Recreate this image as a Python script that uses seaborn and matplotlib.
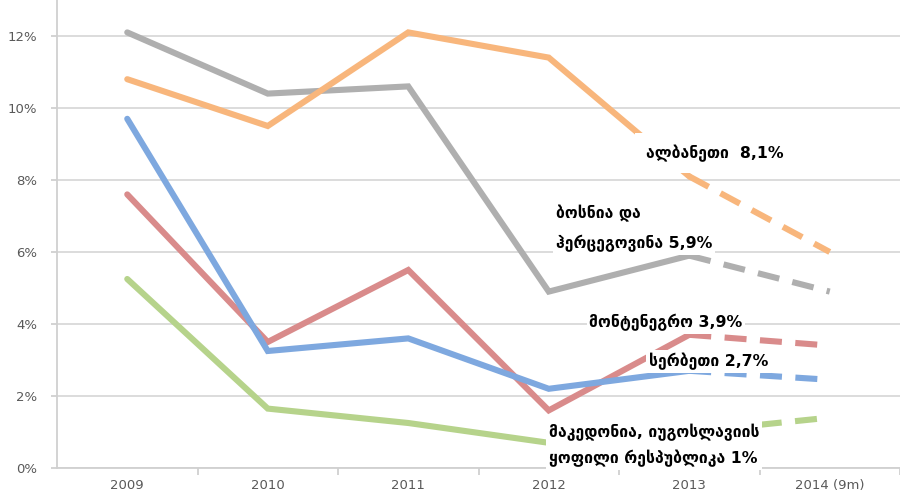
import matplotlib
matplotlib.use("Agg")
import matplotlib.pyplot as plt
import seaborn as sns
import pandas as pd
import numpy as np
from matplotlib.ticker import FixedLocator

# ---- data ----
years = ["2009", "2010", "2011", "2012", "2013", "2014 (9m)"]
albania = [10.8, 9.5, 12.1, 11.4, 8.1, 6.0]
bosnia = [12.1, 10.4, 10.6, 4.9, 5.9, 4.9]
montenegro = [7.6, 3.5, 5.5, 1.6, 3.7, 3.4]
serbia = [9.7, 3.25, 3.6, 2.2, 2.7, 2.45]
macedonia = [5.25, 1.65, 1.25, 0.7, 1.0, 1.4]

labels = {
    "albania": "ალბანეთი  8,1%",
    "bosnia": "ბოსნია და\nჰერცეგოვინა 5,9%",
    "montenegro": "მონტენეგრო 3,9%",
    "serbia": "სერბეთი 2,7%",
    "macedonia": "მაკედონია, იუგოსლავიის\nყოფილი რესპუბლიკა 1%",
}

series = {
    "bosnia": bosnia,
    "albania": albania,
    "montenegro": montenegro,
    "serbia": serbia,
    "macedonia": macedonia,
}
colors = {
    "bosnia": "#AFAFAF",
    "albania": "#F8B67C",
    "montenegro": "#D98B8B",
    "serbia": "#7EA8DF",
    "macedonia": "#B6D38B",
}

sns.set_theme(style="white")
plt.rcParams["font.family"] = ["DejaVu Sans"]

fig = plt.figure(figsize=(9, 4.99), dpi=100)
ax = fig.add_axes([57 / 900, 31 / 499, 1 - 57 / 900, 1 - 31 / 499 - 0.0])

idx = np.arange(len(years))
for name, vals in series.items():
    df_solid = pd.DataFrame({"x": idx[:5], "y": vals[:5]})
    df_dash = pd.DataFrame({"x": idx[4:], "y": vals[4:]})
    sns.lineplot(data=df_solid, x="x", y="y", ax=ax, color=colors[name],
                 lw=4.4, solid_capstyle="round", solid_joinstyle="miter", zorder=3)
    l = sns.lineplot(data=df_dash, x="x", y="y", ax=ax, color=colors[name],
                     lw=4.4, zorder=3)
    l.lines[-1].set_dashes((3.6, 2.2))

ax.set_xlim(-0.5, 5.5)
ax.set_ylim(0, 13)
ax.set_xlabel("")
ax.set_ylabel("")

ax.set_yticks([0, 2, 4, 6, 8, 10, 12])
ax.set_yticklabels(["0%", "2%", "4%", "6%", "8%", "10%", "12%"])
ax.set_xticks(idx)
ax.set_xticklabels(years)
ax.xaxis.set_minor_locator(FixedLocator(np.arange(0.5, 5.6, 1.0)))

ax.grid(axis="y", color="#D9D9D9", lw=1.3, zorder=0)
ax.grid(axis="x", visible=False)
for s in ["top", "right"]:
    ax.spines[s].set_visible(False)
ax.spines["left"].set_color("#D0D0D0")
ax.spines["left"].set_linewidth(1.3)
ax.spines["bottom"].set_color("#D0D0D0")
ax.spines["bottom"].set_linewidth(1.3)

ax.tick_params(axis="y", which="major", length=4, color="#D0D0D0", width=1.3,
               labelsize=9.5, labelcolor="#595959", pad=10, left=True)
ax.tick_params(axis="x", which="major", length=0, labelsize=9.5,
               labelcolor="#595959", pad=8)
ax.tick_params(axis="x", which="minor", length=5, color="#D0D0D0", width=1.3,
               bottom=True)

box = dict(facecolor="white", edgecolor="none", pad=2)
tk = dict(fontsize=11.3, fontweight="bold", color="black", zorder=5)

ax.text(4.18, 8.75, labels["albania"], ha="center", va="center",
        bbox=dict(facecolor="white", edgecolor="none", pad=8), **tk)
ax.text(3.05, 6.65, labels["bosnia"], ha="left", va="center",
        linespacing=1.95, bbox=box, **tk)
ax.text(4.38, 4.05, labels["montenegro"], ha="right", va="center", bbox=box, **tk)
ax.text(4.56, 2.96, labels["serbia"], ha="right", va="center", bbox=box, **tk)
ax.text(3.0, 0.63, labels["macedonia"], ha="left", va="center",
        linespacing=1.7, bbox=box, **tk)

fig.savefig("out.png", dpi=100)
